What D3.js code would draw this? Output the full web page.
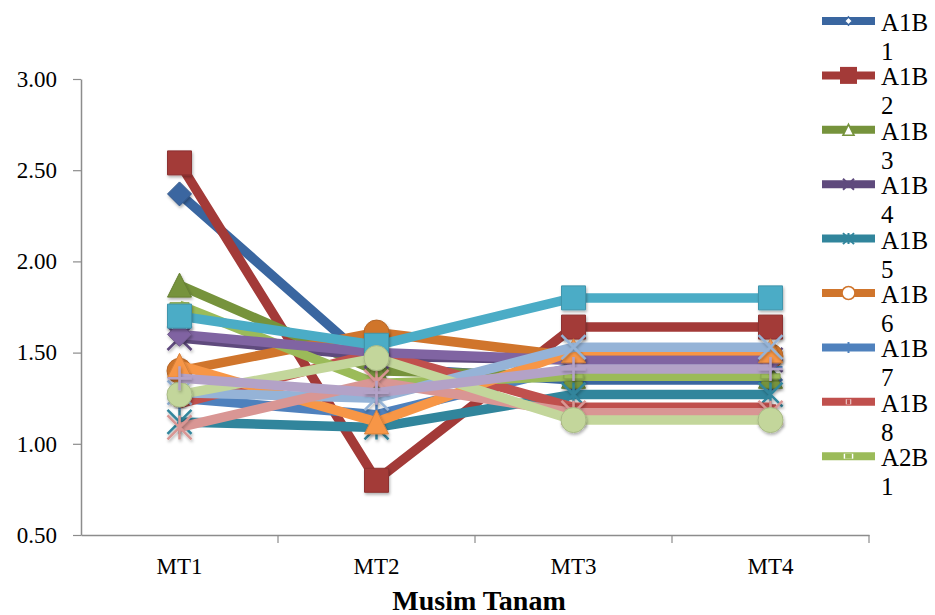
<!DOCTYPE html>
<html>
<head>
<meta charset="utf-8">
<script src="https://cdn.jsdelivr.net/npm/d3@7"></script>
<style>
  html, body { margin: 0; padding: 0; background: #fff; }
  svg { display: block; }
</style>
</head>
<body>
<svg id="chart" width="935" height="615"></svg>
<script>
// Planting seasons on the x axis
const seasons = ["MT1", "MT2", "MT3", "MT4"];
const yTicks = [0.5, 1.0, 1.5, 2.0, 2.5, 3.0];

// Treatment names and their values per season
const seriesNames = ["A1B1", "A1B2", "A1B3", "A1B4", "A1B5", "A1B6", "A1B7", "A1B8",
                     "A2B1", "A2B2", "A2B3", "A2B4", "A2B5", "A2B6", "A2B7", "A2B8"];
const A1B1 = [2.37, 1.42, 1.35, 1.35];
const A1B2 = [2.54, 0.80, 1.64, 1.64];
const A1B3 = [1.87, 1.40, 1.37, 1.37];
const A1B4 = [1.58, 1.48, 1.46, 1.46];
const A1B5 = [1.12, 1.09, 1.27, 1.27];
const A1B6 = [1.40, 1.61, 1.48, 1.48];
const A1B7 = [1.25, 1.16, 1.42, 1.42];
const A1B8 = [1.22, 1.50, 1.20, 1.20];
const A2B1 = [1.76, 1.33, 1.37, 1.37];
const A2B2 = [1.60, 1.50, 1.46, 1.46];
const A2B3 = [1.70, 1.54, 1.80, 1.80];
const A2B4 = [1.43, 1.12, 1.51, 1.51];
const A2B5 = [1.28, 1.25, 1.53, 1.53];
const A2B6 = [1.09, 1.34, 1.17, 1.17];
const A2B7 = [1.27, 1.47, 1.13, 1.13];
const A2B8 = [1.36, 1.28, 1.41, 1.41];
const seriesValues = [A1B1, A1B2, A1B3, A1B4, A1B5, A1B6, A1B7, A1B8,
                      A2B1, A2B2, A2B3, A2B4, A2B5, A2B6, A2B7, A2B8];

// Series styling (office-style palette: dark, base, light)
const colors = ["#3A66A0", "#A33A38", "#76933C", "#5F4A7D", "#31859C", "#D0752C",
                "#4F81BD", "#C0504D", "#9BBB59", "#8064A2", "#4BACC6", "#F79646",
                "#95B3D7", "#D99694", "#C3D69B", "#B3A2C7"];
const markerKinds = ["diamond", "square", "triangle", "x", "star", "circle", "plus", "dash", "longdash"];

// The legend box only has room for the first nine entries
const legendCount = 9;

const series = seriesNames.map((name, i) => ({
  name,
  color: colors[i],
  marker: markerKinds[i % markerKinds.length],
  values: seriesValues[i].map((v, j) => ({ season: seasons[j], value: v }))
}));

const svg = d3.select("#chart");
const plot = { left: 81, right: 869, top: 79, bottom: 535 };

const x = d3.scaleBand().domain(seasons).range([plot.left, plot.right]);
const y = d3.scaleLinear().domain([0.5, 3.0]).range([plot.bottom, plot.top]);
const cx = s => x(s) + x.bandwidth() / 2;

const axisColor = "#8c8c8c";
const serif = "'Liberation Serif', 'Times New Roman', serif";

// Soft shadow under the markers
const defs = svg.append("defs");
const f = defs.append("filter").attr("id", "shadow").attr("x", "-50%").attr("y", "-50%")
  .attr("width", "200%").attr("height", "200%");
f.append("feDropShadow").attr("dx", 1).attr("dy", 2).attr("stdDeviation", 1.5)
  .attr("flood-color", "#000").attr("flood-opacity", 0.3);

// Y axis
const yAxis = svg.append("g")
  .attr("transform", `translate(${plot.left},0)`)
  .call(d3.axisLeft(y).tickValues(yTicks).tickFormat(d3.format(".2f")).tickSize(8).tickSizeOuter(0).tickPadding(16));
yAxis.select(".domain").attr("stroke", axisColor).attr("stroke-width", 1.5);
yAxis.selectAll(".tick line").attr("stroke", axisColor).attr("stroke-width", 1.2);
yAxis.selectAll(".tick text").attr("fill", "#000").style("font-family", serif).style("font-size", "23px");

// X axis
const xAxis = svg.append("g")
  .attr("transform", `translate(0,${plot.bottom})`)
  .call(d3.axisBottom(x).tickSize(0).tickSizeOuter(0).tickPadding(23));
xAxis.select(".domain").attr("stroke", axisColor).attr("stroke-width", 1.5);
xAxis.selectAll(".tick text").attr("fill", "#000").style("font-family", serif).style("font-size", "23px");
// Category boundary tick marks
xAxis.selectAll(".bound").data(seasons).enter().append("line")
  .attr("class", "bound")
  .attr("x1", d => x(d) + x.bandwidth()).attr("x2", d => x(d) + x.bandwidth())
  .attr("y1", 0).attr("y2", 8)
  .attr("stroke", axisColor).attr("stroke-width", 1.2);

// Axis title
svg.append("text")
  .attr("x", (plot.left + plot.right) / 2 + 4).attr("y", 610)
  .attr("text-anchor", "middle")
  .style("font-family", serif).style("font-size", "28px").style("font-weight", "bold")
  .text("Musim Tanam");

// Marker drawing
function markerPath(kind, s) {
  const h = s / 2;
  switch (kind) {
    case "diamond": return `M0,${-h}L${h},0L0,${h}L${-h},0Z`;
    case "square": return `M${-h},${-h}H${h}V${h}H${-h}Z`;
    case "triangle": return `M0,${-h}L${h},${h}L${-h},${h}Z`;
    case "circle": return d3.symbol(d3.symbolCircle, Math.PI * h * h)();
    case "x": return `M${-h},${-h}L${h},${h}M${h},${-h}L${-h},${h}`;
    case "star": return `M${-h},${-h}L${h},${h}M${h},${-h}L${-h},${h}M0,${-h}V${h}`;
    case "plus": return `M${-h},0H${h}M0,${-h}V${h}`;
    case "dash": return `M${-h * 0.45},-2.5H${h * 0.45}V2.5H${-h * 0.45}Z`;
    case "longdash": return `M${-h * 0.8},-2.5H${h * 0.8}V2.5H${-h * 0.8}Z`;
  }
}
const isFilled = k => ["diamond", "square", "triangle", "circle", "dash", "longdash"].includes(k);

function drawMarker(g, kind, color, size) {
  const p = g.append("path").attr("d", markerPath(kind, size));
  if (isFilled(kind)) {
    p.attr("fill", color).attr("stroke", d3.color(color).darker(0.4)).attr("stroke-width", 1);
  } else {
    p.attr("fill", "none").attr("stroke", color).attr("stroke-width", 2.5);
  }
  return p;
}

const line = d3.line().x(d => cx(d.season)).y(d => y(d.value));

// Series: line then markers, later series on top
const gSeries = svg.append("g");
series.forEach(s => {
  const g = gSeries.append("g");
  g.append("path")
    .datum(s.values)
    .attr("d", line)
    .attr("fill", "none")
    .attr("stroke", s.color)
    .attr("stroke-width", 9.5)
    .attr("stroke-linejoin", "round");
  s.values.forEach(d => {
    const mg = g.append("g")
      .attr("transform", `translate(${cx(d.season)},${y(d.value)})`)
      .attr("filter", "url(#shadow)");
    drawMarker(mg, s.marker, s.color, s.marker === "circle" ? 25 : 24);
  });
});

// Legend
const legendTop = 21, legendStep = 54.4;
const legend = svg.append("g");
series.slice(0, legendCount).forEach((s, i) => {
  const yy = legendTop + i * legendStep;
  const g = legend.append("g").attr("transform", `translate(0,${yy})`);
  g.append("line").attr("x1", 822).attr("x2", 875).attr("y1", 0).attr("y2", 0)
    .attr("stroke", s.color).attr("stroke-width", 8);
  const mg = g.append("g").attr("transform", "translate(848.5,0)");
  const small = { diamond: 8, square: 17, triangle: 11, x: 11, star: 11, circle: 13, plus: 11, dash: 12, longdash: 12 };
  const k = s.marker;
  const p = mg.append("path").attr("d", markerPath(k, small[k]));
  if (k === "diamond" || k === "triangle" || k === "circle") {
    p.attr("fill", "#fff").attr("stroke", s.color).attr("stroke-width", 1.6);
  } else if (k === "dash" || k === "longdash") {
    p.attr("fill", "#fff").attr("stroke", "none");
    mg.append("path").attr("d", markerPath(k, small[k] * 0.7)).attr("fill", s.color);
  } else if (isFilled(k)) {
    p.attr("fill", s.color).attr("stroke", "none");
  } else {
    p.attr("fill", "none").attr("stroke", s.color).attr("stroke-width", 2);
  }
  const t = g.append("text")
    .attr("x", 881).attr("y", 10)
    .style("font-family", serif).style("font-size", "25px").attr("fill", "#000");
  t.append("tspan").attr("x", 881).attr("dy", 0).text(s.name.slice(0, 3));
  t.append("tspan").attr("x", 881).attr("dy", 29).text(s.name.slice(3));
});
</script>
</body>
</html>
